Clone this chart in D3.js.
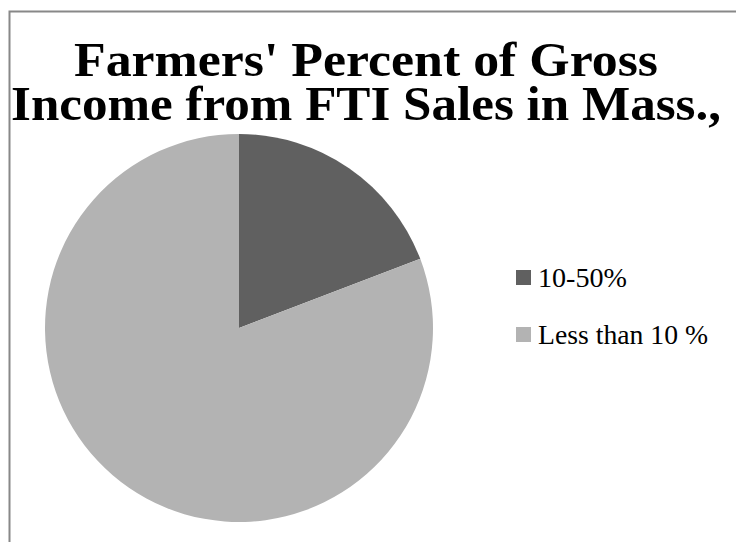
<!DOCTYPE html>
<html lang="en">
<head>
  <meta charset="UTF-8">
  <title>Farmers' Percent of Gross Income</title>
  <script src="https://d3js.org/d3.v7.min.js"></script>
  <style>
    body { margin: 0; background: #fff; }
    svg { display: block; }
  </style>
</head>
<body>
  <svg id="chart" width="736" height="542"></svg>
  <script>
    // Data
    const categories = ["10-50%", "Less than 10 %"];
    const shares = [19.2, 80.8];
    const colors = ["#606060", "#b3b3b3"];
    const titleLines = ["Farmers' Percent of Gross", "Income from FTI Sales in Mass.,"];
    const titleWidths = [584, 710];
    const legendWidths = [89, 170];

    const svg = d3.select("#chart");
    const serif = "'Liberation Serif', 'DejaVu Serif', serif";

    // chart frame (runs off the right and bottom edge)
    svg.append("rect")
       .attr("x", 9.5).attr("y", 11.5)
       .attr("width", 760).attr("height", 560)
       .attr("fill", "none")
       .attr("stroke", "#888")
       .attr("stroke-width", 2);

    // Title: one text block, two lines
    svg.append("text")
       .attr("text-anchor", "middle")
       .attr("font-family", serif)
       .attr("font-weight", "bold")
       .attr("font-size", 48)
       .attr("fill", "#000")
       .selectAll("tspan")
       .data(titleLines)
       .enter()
       .append("tspan")
       .attr("x", 366)
       .attr("y", (d, i) => 76 + i * 44)
       .attr("textLength", (d, i) => titleWidths[i])
       .attr("lengthAdjust", "spacingAndGlyphs")
       .text(d => d);

    // Pie
    const cx = 239, cy = 328, radius = 194;
    const pie = d3.pie().sort(null).value(d => d);
    const arc = d3.arc().innerRadius(0).outerRadius(radius);
    const color = d3.scaleOrdinal().domain(categories).range(colors);

    svg.append("g")
       .attr("transform", `translate(${cx},${cy})`)
       .selectAll("path")
       .data(pie(shares))
       .enter()
       .append("path")
       .attr("d", arc)
       .attr("fill", (d, i) => color(categories[i]));

    // Legend
    const legend = svg.append("g")
       .attr("transform", "translate(516,270)");
    const rows = legend.selectAll("g")
       .data(categories)
       .enter()
       .append("g")
       .attr("transform", (d, i) => `translate(0,${i * 57})`);
    rows.append("rect")
       .attr("width", 15).attr("height", 15)
       .attr("fill", d => color(d));
    rows.append("text")
       .attr("x", 22)
       .attr("y", 17)
       .attr("font-family", serif)
       .attr("font-size", 27)
       .attr("textLength", (d, i) => legendWidths[i])
       .attr("lengthAdjust", "spacingAndGlyphs")
       .attr("fill", "#000")
       .text(d => d);
  </script>
</body>
</html>
